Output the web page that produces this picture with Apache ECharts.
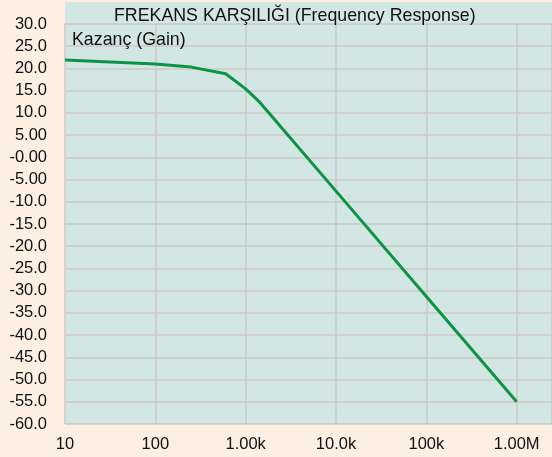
<!DOCTYPE html>
<html>
<head>
<meta charset="utf-8">
<script src="https://cdn.jsdelivr.net/npm/echarts@6/dist/echarts.min.js"></script>
<style>
  html, body { margin: 0; padding: 0; background: #FDEFE2; }
  #chart { width: 552px; height: 457px; }
</style>
</head>
<body>
<div id="chart"></div>
<script>
// Frequency (Hz) and gain (dB) of the amplifier response
const frequencies = [10, 100, 250, 600, 1000, 1400, 10000, 100000, 1000000];
const gains = [21.9, 21.0, 20.3, 18.8, 15.4, 12.6, -7.6, -31.3, -55.0];

// Axis tick values and their printed labels
const xTickValues = [10, 100, 1000, 10000, 100000, 1000000];
const xTickLabels = ['10', '100', '1.00k', '10.0k', '100k', '1.00M'];
const yTickValues = [30, 25, 20, 15, 10, 5, 0, -5, -10, -15, -20, -25, -30, -35, -40, -45, -50, -55, -60];
const yTickLabels = ['30.0', '25.0', '20.0', '15.0', '10.0', '5.00', '-0.00', '-5.00', '-10.0', '-15.0', '-20.0',
  '-25.0', '-30.0', '-35.0', '-40.0', '-45.0', '-50.0', '-55.0', '-60.0'];

const titleText = 'FREKANS KARŞILIĞI (Frequency Response)';
const yAxisName = 'Kazanç (Gain)';

const PLOT_BG = '#D2E6E3';
const GRID_COLOR = '#CBC8C6';
const FONT = 'Liberation Sans, Arial, sans-serif';

const chart = echarts.init(document.getElementById('chart'), null, { renderer: 'canvas' });

function labelFor(values, labels, v) {
  for (let i = 0; i < values.length; i++) {
    if (Math.abs(values[i] - v) <= Math.abs(values[i]) * 1e-6 + 1e-9) return labels[i];
  }
  return '';
}

chart.setOption({
  backgroundColor: '#FDEFE2',
  animation: false,
  title: [
    {
      text: titleText,
      left: 109, top: 2,
      textStyle: { fontFamily: FONT, fontSize: 17.8, fontWeight: 'normal', color: '#111' }
    },
    {
      text: yAxisName,
      left: 67, top: 26,
      textStyle: { fontFamily: FONT, fontSize: 17.8, fontWeight: 'normal', color: '#111' }
    }
  ],
  graphic: [
    {
      type: 'rect', z: -1, silent: true,
      shape: { x: 65, y: 2, width: 487, height: 22 },
      style: { fill: PLOT_BG }
    }
  ],
  grid: { left: 65, right: 0, top: 24, bottom: 33, show: true, backgroundColor: PLOT_BG, borderWidth: 0 },
  xAxis: {
    type: 'log',
    logBase: 10,
    min: 10,
    max: 2.46e6,
    axisLine: { show: false },
    axisTick: { show: false },
    splitLine: { show: true, lineStyle: { color: GRID_COLOR, width: 1.5 } },
    axisLabel: {
      fontFamily: FONT, fontSize: 16.5, color: '#111', margin: 12,
      showMaxLabel: false,
      formatter: v => labelFor(xTickValues, xTickLabels, v)
    }
  },
  yAxis: {
    type: 'value',
    min: -60,
    max: 30,
    interval: 5,
    axisLine: { show: false },
    axisTick: { show: false },
    splitLine: { show: true, lineStyle: { color: GRID_COLOR, width: 1.5 } },
    axisLabel: {
      fontFamily: FONT, fontSize: 16.5, color: '#111', margin: 18,
      formatter: v => labelFor(yTickValues, yTickLabels, v)
    }
  },
  series: [
    {
      type: 'line',
      data: frequencies.map((f, i) => [f, gains[i]]),
      symbol: 'none',
      smooth: false,
      lineStyle: { color: '#0B9444', width: 3 }
    }
  ]
});
</script>
</body>
</html>
